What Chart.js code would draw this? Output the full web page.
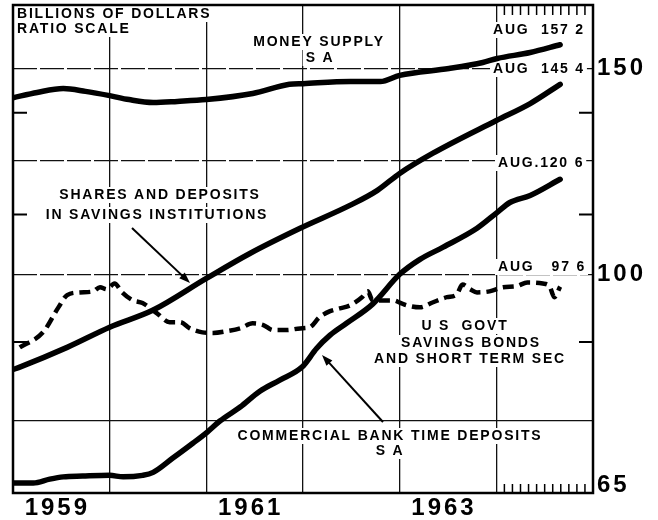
<!DOCTYPE html>
<html><head><meta charset="utf-8">
<script src="https://cdn.jsdelivr.net/npm/chart.js@4.4.1/dist/chart.umd.min.js"></script>
<style>html,body{margin:0;padding:0;background:#fff;}canvas{display:block;}</style>
</head><body>
<canvas id="c" width="658" height="520"></canvas>
<script>
// ---- data (billions of dollars, ratio scale) ----
const moneyDates  = [1959.00,1959.25,1959.52,1959.75,1960.00,1960.20,1960.45,1960.70,1961.00,1961.48,1961.86,1962.00,1962.49,1962.80,1963.00,1963.51,1963.86,1964.01,1964.35,1964.66];
const moneyValues = [141.6,143.1,144.2,143.4,142.2,141.1,140.3,140.6,141.1,142.8,145.4,145.6,146.2,146.2,148.0,150.0,151.8,153.0,154.8,157.2];

const savingsDates  = [1959.00,1959.07,1959.56,1960.00,1960.45,1961.00,1961.45,1961.97,1962.49,1962.77,1963.00,1963.34,1964.00,1964.35,1964.66];
const savingsValues = [82.9,83.3,86.6,90.1,93.2,99.2,104.2,109.5,114.6,118.0,122.0,126.9,135.4,140.0,145.4];

const bankDates  = [1959.00,1959.21,1959.38,1959.52,1959.72,1960.00,1960.14,1960.34,1960.45,1960.65,1960.86,1961.01,1961.14,1961.35,1961.55,1961.76,1961.99,1962.14,1962.28,1962.45,1962.72,1963.00,1963.21,1963.45,1963.80,1964.01,1964.14,1964.35,1964.66];
const bankValues = [66.3,66.3,66.8,67.1,67.2,67.3,67.1,67.3,67.7,69.6,71.7,73.3,74.9,77.0,79.4,81.2,83.3,86.4,88.7,90.8,94.3,100.0,103.0,105.5,109.5,113.0,115.2,116.8,120.6];

const govtDates  = [1959.07,1959.31,1959.47,1959.56,1959.69,1959.83,1959.90,1959.97,1960.05,1960.13,1960.24,1960.34,1960.49,1960.62,1960.73,1960.83,1960.96,1961.07,1961.21,1961.35,1961.48,1961.59,1961.69,1961.83,1961.97,1962.07,1962.17,1962.28,1962.38,1962.49,1962.61,1962.67,1962.72,1962.93,1963.00,1963.07,1963.21,1963.34,1963.49,1963.59,1963.65,1963.73,1963.80,1963.93,1964.07,1964.21,1964.32,1964.48,1964.55,1964.60,1964.66];
const govtValues = [86.6,89.2,93.7,96.0,96.5,96.7,97.5,97.1,98.2,96.5,95.0,94.5,92.6,91.0,91.0,89.9,89.2,89.1,89.4,89.9,90.8,90.5,89.6,89.6,89.9,90.1,91.9,93.0,93.5,94.1,95.6,96.7,95.0,95.0,94.6,94.1,93.7,94.6,95.6,96.1,98.0,97.1,96.5,96.7,97.5,97.7,98.4,98.2,97.7,95.6,97.6];

// ---- axes ----
const xGridYears = [1959,1960,1961,1962,1963,1964,1965];
const yearLabels = ['1959','1961','1963'];
const yearLabelAt = [1959.5,1961.5,1963.5];
const yGridValues = [65,75,100,125,150];
const yLabelValues = [65,100,150];
const yInnerTicks = [87.5,112.5,137.5];
const monthTicks1964 = [1,2,3,4,5,6,7,8,9,10,11];

const pts = (xs, ys) => xs.map((x, i) => ({x: x, y: ys[i]}));

const notes = [
  {text:'BILLIONS OF DOLLARS', x:17, y:14, align:'left'},
  {text:'RATIO SCALE', x:17, y:29, align:'left'},
  {text:'MONEY SUPPLY', x:319, y:42},
  {text:'S A', x:320, y:58},
  {text:'AUG  157 2', x:493, y:30, align:'left'},
  {text:'AUG  145 4', x:493, y:69, align:'left'},
  {text:'AUG.120 6', x:498, y:163, align:'left'},
  {text:'AUG   97 6', x:498, y:267, align:'left'},
  {text:'SHARES AND DEPOSITS', x:160, y:195},
  {text:'IN SAVINGS INSTITUTIONS', x:157, y:215},
  {text:'U S  GOVT', x:465, y:326},
  {text:'SAVINGS BONDS', x:471, y:343},
  {text:'AND SHORT TERM SEC', x:470, y:359},
  {text:'COMMERCIAL BANK TIME DEPOSITS', x:390, y:436},
  {text:'S A', x:390, y:451}
];
const arrows = [
  {x1:132, y1:228, x2:190, y2:283},
  {x1:383, y1:422, x2:322, y2:355}
];

const decor = {
  id: 'decor',
  beforeDraw(chart) { chart.ctx.letterSpacing = '3px'; },
  beforeDatasetsDraw(chart) {
    const ctx = chart.ctx;
    ctx.save();
    ctx.font = 'bold 14px "Liberation Sans"';
    ctx.letterSpacing = '1.8px';
    ctx.textBaseline = 'middle';
    for (const a of notes) {
      const w = ctx.measureText(a.text).width;
      const x0 = a.align === 'left' ? a.x : a.x - w / 2;
      ctx.fillStyle = '#fff';
      ctx.fillRect(x0 - 3, a.y - 8, w + 5, 16);
    }
    ctx.fillStyle = '#000';
    for (const a of notes) {
      ctx.textAlign = a.align === 'left' ? 'left' : 'center';
      ctx.fillText(a.text, a.x, a.y + 0.5);
    }
    ctx.restore();
  },
  afterDraw(chart) {
    const ctx = chart.ctx;
    const {left, right, top, bottom} = chart.chartArea;
    const xs = chart.scales.x, ys = chart.scales.y;
    ctx.save();
    ctx.strokeStyle = '#000';
    ctx.lineWidth = 2.5;
    ctx.strokeRect(left, top, right - left, bottom - top);
    ctx.lineWidth = 2;
    for (const v of yInnerTicks) {
      const y = ys.getPixelForValue(v);
      ctx.beginPath();
      ctx.moveTo(left, y); ctx.lineTo(left + 14, y);
      ctx.moveTo(right - 14, y); ctx.lineTo(right, y);
      ctx.stroke();
    }
    ctx.lineWidth = 1.5;
    for (const m of monthTicks1964) {
      const x = xs.getPixelForValue(1964 + m / 12);
      ctx.beginPath();
      ctx.moveTo(x, top); ctx.lineTo(x, top + 10);
      ctx.moveTo(x, bottom); ctx.lineTo(x, bottom - 9);
      ctx.stroke();
    }
    ctx.lineWidth = 2;
    ctx.fillStyle = '#000';
    for (const a of arrows) {
      const ang = Math.atan2(a.y2 - a.y1, a.x2 - a.x1);
      ctx.beginPath();
      ctx.moveTo(a.x1, a.y1);
      ctx.lineTo(a.x2 - 6 * Math.cos(ang), a.y2 - 6 * Math.sin(ang));
      ctx.stroke();
      ctx.beginPath();
      ctx.moveTo(a.x2, a.y2);
      ctx.lineTo(a.x2 - 11 * Math.cos(ang) + 4 * Math.sin(ang), a.y2 - 11 * Math.sin(ang) - 4 * Math.cos(ang));
      ctx.lineTo(a.x2 - 11 * Math.cos(ang) - 4 * Math.sin(ang), a.y2 - 11 * Math.sin(ang) + 4 * Math.cos(ang));
      ctx.closePath();
      ctx.fill();
    }
    ctx.restore();
  }
};

const solid = (label, xs, ys) => ({
  label, data: pts(xs, ys), borderColor: '#000', borderWidth: 5.5, pointRadius: 0,
  cubicInterpolationMode: 'monotone', borderCapStyle: 'round', borderJoinStyle: 'round', fill: false
});

new Chart(document.getElementById('c'), {
  type: 'line',
  data: {
    datasets: [
      solid('Money supply SA', moneyDates, moneyValues),
      solid('Shares and deposits in savings institutions', savingsDates, savingsValues),
      solid('Commercial bank time deposits SA', bankDates, bankValues),
      {label: 'US Govt savings bonds and short term sec', data: pts(govtDates, govtValues), borderColor: '#000',
       borderWidth: 4.5, borderDash: [11, 6], pointRadius: 0, cubicInterpolationMode: 'monotone', fill: false}
    ]
  },
  options: {
    responsive: false, animation: false,
    layout: {padding: {left: 13, top: 5, right: 0, bottom: 0}},
    plugins: {legend: {display: false}, tooltip: {enabled: false}},
    scales: {
      x: {
        type: 'linear', min: 1959, max: 1965, position: 'bottom',
        afterBuildTicks: s => { s.ticks = xGridYears.map(v => ({value: v})); },
        ticks: {display: false},
        grid: {color: '#111', lineWidth: 1.3, drawTicks: false},
        border: {display: false},
        afterFit: s => { s.height = 0; s.paddingLeft = 0; s.paddingRight = 0; }
      },
      xYears: {
        type: 'linear', min: 1959, max: 1965, position: 'bottom',
        afterBuildTicks: s => { s.ticks = yearLabelAt.map(v => ({value: v})); },
        ticks: {callback: (v, i) => yearLabels[i], autoSkip: false, maxRotation: 0, padding: 1, labelOffset: -4,
                color: '#000', font: {family: 'Liberation Sans', weight: 'bold', size: 24}},
        grid: {display: false, drawTicks: false},
        border: {display: false},
        afterFit: s => { s.height = 27; s.paddingLeft = 0; s.paddingRight = 0; }
      },
      y: {
        type: 'logarithmic', min: 65, max: 170, position: 'right',
        afterBuildTicks: s => { s.ticks = yGridValues.map(v => ({value: v})); },
        ticks: {
          callback: v => v === 65 ? ['65', ''] : (yLabelValues.includes(v) ? String(v) : ''),
          autoSkip: false, padding: 4, color: '#000',
          font: {family: 'Liberation Sans', weight: 'bold', size: 24, lineHeight: '15px'}
        },
        grid: {color: c => (c.tick && c.tick.value === 65) ? 'rgba(0,0,0,0)' : '#111', lineWidth: 1.3, drawTicks: false},
        border: {display: false, dash: c => (c.tick && c.tick.value !== 75) ? [24, 3] : []},
        afterFit: s => { s.width = 65; s.paddingTop = 0; s.paddingBottom = 0; }
      }
    }
  },
  plugins: [decor]
});
</script>
</body></html>
